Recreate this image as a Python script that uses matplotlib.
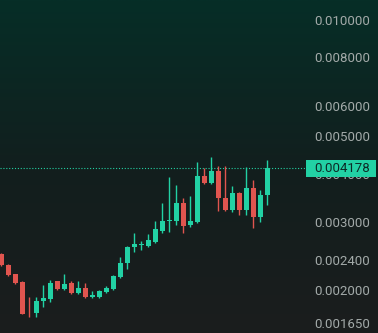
import matplotlib
matplotlib.use("Agg")
import matplotlib.pyplot as plt
import matplotlib.transforms as mtransforms
from matplotlib.colors import LinearSegmentedColormap
from matplotlib.patches import Rectangle
import numpy as np

# candle data (open, high, low, close)
opens = [0.002508, 0.002350, 0.002226, 0.002123, 0.001765, 0.001765, 0.001896, 0.001918,
         0.002135, 0.002036, 0.002110, 0.001988, 0.002048, 0.001941, 0.001941, 0.002000,
         0.002036, 0.002187, 0.002376, 0.002614, 0.002645, 0.002630, 0.002693, 0.002875,
         0.003052, 0.003052, 0.003396, 0.002980, 0.003034, 0.003988, 0.003825, 0.004108,
         0.003499, 0.003258, 0.003604, 0.003258, 0.003713, 0.003125, 0.003562]
highs = [0.002520, 0.002360, 0.002230, 0.002130, 0.001941, 0.001941, 0.002085, 0.002148,
         0.002140, 0.002226, 0.002135, 0.002135, 0.002110, 0.002012, 0.002024, 0.002072,
         0.002213, 0.002463, 0.002630, 0.002841, 0.002709, 0.002823, 0.003052, 0.003396,
         0.003964, 0.003780, 0.003499, 0.003540, 0.004334, 0.004180, 0.004465, 0.004230,
         0.004230, 0.003757, 0.003626, 0.004205, 0.003894, 0.003669, 0.004386]
lows = [0.002340, 0.002200, 0.002100, 0.001750, 0.001724, 0.001724, 0.001830, 0.001884,
        0.002020, 0.002024, 0.001976, 0.001980, 0.001930, 0.001930, 0.001930, 0.001990,
        0.002024, 0.002174, 0.002294, 0.002538, 0.002568, 0.002614, 0.002677, 0.002841,
        0.002858, 0.002980, 0.002841, 0.002944, 0.003016, 0.003803, 0.003800, 0.003239,
        0.003239, 0.003220, 0.003161, 0.003161, 0.002927, 0.003034, 0.003356]
closes = [0.002350, 0.002213, 0.002110, 0.001755, 0.001760, 0.001896, 0.001930, 0.002110,
          0.002036, 0.002098, 0.001988, 0.002048, 0.001941, 0.001965, 0.002012, 0.002048,
          0.002200, 0.002376, 0.002614, 0.002661, 0.002650, 0.002725, 0.002909, 0.003052,
          0.003070, 0.003396, 0.002962, 0.003052, 0.003988, 0.003825, 0.004108, 0.003499,
          0.003258, 0.003604, 0.003258, 0.003713, 0.003125, 0.003562, 0.004178]

price_ticks = [0.010000, 0.008000, 0.006000, 0.005000, 0.004000,
               0.003000, 0.002400, 0.002000, 0.001650]
last_price = 0.004178

up_col = '#22d1a4'
down_col = '#e0554f'
label_col = '#a3aaa9'

fig = plt.figure(figsize=(3.78, 3.33), dpi=100)
ax = fig.add_axes([0, 0, 1, 1])

# background gradient, teal on top fading to dark grey
bg = LinearSegmentedColormap.from_list('bg', ['#1b1d1d', '#121f1e', '#062e27'])
grad = np.linspace(0, 1, 256).reshape(-1, 1)
ax.imshow(grad, aspect='auto', cmap=bg, origin='lower', extent=[0, 1, 0, 1],
          transform=ax.transAxes, zorder=0)

xs = np.arange(len(opens))
for i in xs:
    o, h, l, c = opens[i], highs[i], lows[i], closes[i]
    col = up_col if c >= o else down_col
    ax.vlines(i, l, h, color=col, linewidth=1.0, zorder=2)
    lo, hi = min(o, c), max(o, c)
    if hi / lo < 1.004:
        hi = lo * 1.004
    ax.bar(i, hi - lo, bottom=lo, width=0.72, color=col, linewidth=0, zorder=3)

ax.set_yscale('log')
ax.set_xlim(-0.214, 53.79)
ax.set_ylim(0.001567, 0.011364)
ax.axis('off')

# right side price labels
trans = mtransforms.blended_transform_factory(ax.transAxes, ax.transData)
for p in price_ticks:
    ax.text(0.979, p, '%.6f' % p, transform=trans, ha='right', va='center',
            fontsize=9.5, family='Roboto', color=label_col, zorder=4)

# last price line and marker
ax.plot([0, 0.81], [last_price, last_price], transform=trans, color=up_col,
        linestyle=(0, (1, 1.6)), linewidth=0.8, zorder=1)
box_lo = last_price / 1.052
box_hi = last_price * 1.050
ax.add_patch(Rectangle((0.81, box_lo), 0.185, box_hi - box_lo, transform=trans,
                       facecolor=up_col, edgecolor='none', zorder=5))
ax.text(0.979, last_price, '%.6f' % last_price, transform=trans, ha='right', va='center',
        fontsize=9.5, family='Roboto', color='#0d2b27', zorder=6)

plt.savefig('out.png', dpi=100)
